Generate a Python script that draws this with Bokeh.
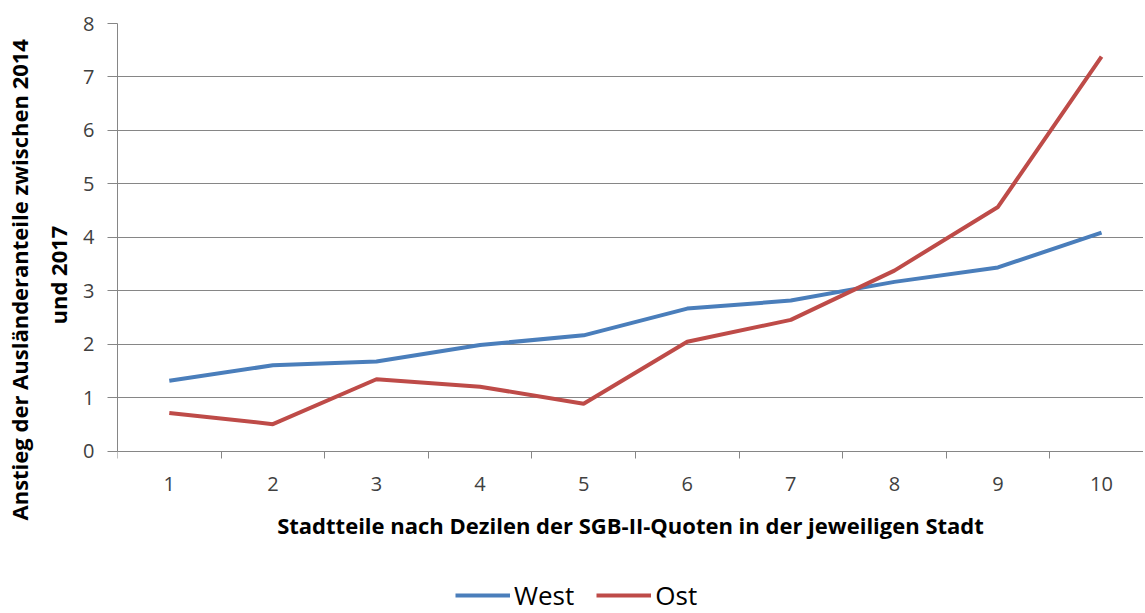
from bokeh.plotting import figure
from bokeh.models import FixedTicker, Legend, LegendItem, Range1d, Title
from bokeh.embed import file_html
from bokeh.resources import INLINE

categories = [1, 2, 3, 4, 5, 6, 7, 8, 9, 10]
west = [1.32, 1.61, 1.68, 1.99, 2.17, 2.67, 2.82, 3.17, 3.44, 4.09]
ost = [0.72, 0.51, 1.35, 1.21, 0.89, 2.05, 2.46, 3.38, 4.57, 7.38]
y_ticks = [0, 1, 2, 3, 4, 5, 6, 7, 8]
between_ticks = [0.5, 1.5, 2.5, 3.5, 4.5, 5.5, 6.5, 7.5, 8.5, 9.5, 10.5]
y_title_1 = "Anstieg der Ausländeranteile zwischen 2014"
y_title_2 = "und 2017"
x_title = "Stadtteile nach Dezilen der SGB-II-Quoten in der jeweiligen Stadt"

FONT = "Open Sans"
GRID = "#868686"

# frame reaches down to the bottom of the picture; the x axis sits at y = 0
p = figure(frame_width=1026, frame_height=590, output_backend="svg", toolbar_location=None,
           x_range=Range1d(0.5, 10.405), y_range=Range1d(-3.03, 8),
           min_border_left=117, min_border_top=23, min_border_right=0, min_border_bottom=0)
p.outline_line_color = None
p.background_fill_color = "white"

l1 = p.line(categories, west, line_color="#4A7EBB", line_width=4)
l2 = p.line(categories, ost, line_color="#BE4B48", line_width=4)

# y axis
p.yaxis.ticker = FixedTicker(ticks=y_ticks)
p.yaxis.bounds = (0, 8)
p.yaxis.axis_line_color = GRID
p.yaxis.major_tick_line_color = GRID
p.yaxis.major_tick_out = 10
p.yaxis.major_tick_in = 0
p.yaxis.minor_tick_line_color = None
p.yaxis.major_label_text_font = FONT
p.yaxis.major_label_text_font_size = "20px"
p.yaxis.major_label_text_color = "#404040"
p.yaxis.major_label_standoff = 13

t2 = Title(text=y_title_2, align="left", offset=289, text_font=FONT, text_font_style="bold",
           text_font_size="22px", text_color="black", standoff=15)
t1 = Title(text=y_title_1, align="left", offset=93, text_font=FONT, text_font_style="bold",
           text_font_size="22px", text_color="black", standoff=0)
p.add_layout(t2, "left")
p.add_layout(t1, "left")

# x axis (fixed at y = 0)
p.xaxis.fixed_location = 0
p.xaxis.ticker = FixedTicker(ticks=categories, minor_ticks=between_ticks)
p.xaxis.axis_line_color = GRID
p.xaxis.major_tick_line_color = None
p.xaxis.major_tick_out = 0
p.xaxis.major_tick_in = 0
p.xaxis.minor_tick_line_color = GRID
p.xaxis.minor_tick_out = 7
p.xaxis.minor_tick_in = 0
p.xaxis.major_label_text_font = FONT
p.xaxis.major_label_text_font_size = "20px"
p.xaxis.major_label_text_color = "#404040"
p.xaxis.major_label_standoff = 19
p.xaxis.axis_label = x_title
p.xaxis.axis_label_text_font = FONT
p.xaxis.axis_label_text_font_style = "bold"
p.xaxis.axis_label_text_font_size = "22px"
p.xaxis.axis_label_text_color = "black"
p.xaxis.axis_label_standoff = 15

p.xgrid.grid_line_color = None
p.ygrid.ticker = FixedTicker(ticks=y_ticks)
p.ygrid.grid_line_color = GRID
p.ygrid.grid_line_width = 1

legend = Legend(items=[LegendItem(label="West", renderers=[l1]), LegendItem(label="Ost", renderers=[l2])],
                orientation="horizontal", location=(338, 0),
                label_text_font=FONT, label_text_font_size="26px", label_text_color="black",
                glyph_width=55, glyph_height=20, label_standoff=4, spacing=22,
                border_line_color=None, background_fill_alpha=0, padding=0, margin=0)
p.add_layout(legend)

open("out.html", "w").write(file_html(p, INLINE))
